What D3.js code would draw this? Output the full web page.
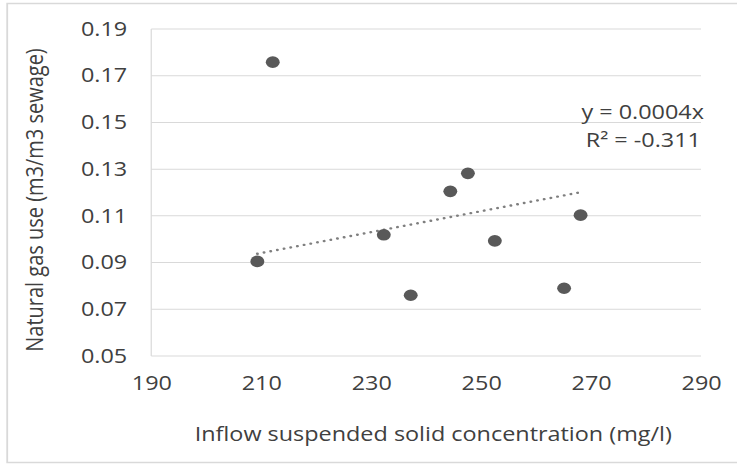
<!DOCTYPE html>
<html>
<head>
<meta charset="utf-8">
<script src="https://cdn.jsdelivr.net/npm/d3@7"></script>
<style>
  body { margin: 0; background: #fff; }
  svg { display: block; }
  text { font-family: "Open Sans", sans-serif; fill: #404040; }
</style>
</head>
<body>
<div id="chart"></div>
<script>
// data
const solids = [212.1, 209.3, 232.3, 244.4, 247.6, 252.5, 237.2, 265.1, 268.1]
const gasUse = [0.1758, 0.0905, 0.1019, 0.1205, 0.1282, 0.0993, 0.076, 0.079, 0.1103]
const xTicks = [190, 210, 230, 250, 270, 290]
const yTicks = [0.05, 0.07, 0.09, 0.11, 0.13, 0.15, 0.17, 0.19]
const trendSlope = 0.000448
const equationLines = ["y = 0.0004x", "R\u00b2 = -0.311"]

// the reference is stretched sideways, so draw in a narrower box and stretch it
const outW = 737, outH = 465
const W = 614, H = 465
const margin = { top: 29, right: 30, bottom: 109, left: 126 },
    width = 584 - margin.left,
    height = H - margin.top - margin.bottom

const textColor = "#404040"
const data = solids.map((s, i) => ({ x: s, y: gasUse[i] }))

const svgRoot = d3.select("#chart")
    .append("svg")
    .attr("width", outW)
    .attr("height", outH)
    .attr("viewBox", "0 0 " + W + " " + H)
    .attr("preserveAspectRatio", "none")

// outer chart border
svgRoot.append("rect")
    .attr("x", 6)
    .attr("y", 3.5)
    .attr("width", W + 20)
    .attr("height", 459)
    .style("fill", "none")
    .style("stroke", "#d9d9d9")
    .style("stroke-width", 1.5)

const svg = svgRoot.append("g")
    .attr("transform", "translate(" + margin.left + "," + margin.top + ")")

const x = d3.scaleLinear().domain([190, 290]).range([0, width])
const y = d3.scaleLinear().domain([0.05, 0.19]).range([height, 0])

// horizontal gridlines
svg.append("g")
    .selectAll("line")
    .data(yTicks)
    .enter()
    .append("line")
    .attr("x1", 0)
    .attr("x2", width)
    .attr("y1", d => y(d))
    .attr("y2", d => y(d))
    .style("stroke", "#d9d9d9")
    .style("stroke-width", 1)

// left axis line
svg.append("line")
    .attr("x1", 0).attr("x2", 0)
    .attr("y1", 0).attr("y2", height)
    .style("stroke", "#d9d9d9")
    .style("stroke-width", 1)

// Y axis labels
const yAxis = svg.append("g")
    .call(d3.axisLeft(y).tickValues(yTicks).tickFormat(d3.format(".2f")).tickSize(0).tickPadding(20))
yAxis.select(".domain").remove()
yAxis.selectAll("text")
    .style("font-size", "19.5px")
    .style("font-family", "'Open Sans', sans-serif")
    .style("fill", textColor)

// X axis labels
const xAxis = svg.append("g")
    .attr("transform", "translate(0," + height + ")")
    .call(d3.axisBottom(x).tickValues(xTicks).tickSize(0).tickPadding(20))
xAxis.select(".domain").remove()
xAxis.selectAll("text")
    .style("font-size", "19.5px")
    .style("font-family", "'Open Sans', sans-serif")
    .style("fill", textColor)

// axis titles
svg.append("text")
    .attr("text-anchor", "middle")
    .attr("x", 235)
    .attr("y", height + 85)
    .style("font-size", "19.5px")
    .text("Inflow suspended solid concentration (mg/l)")

svg.append("text")
    .attr("text-anchor", "middle")
    .attr("transform", "rotate(-90)")
    .attr("x", -(200 - margin.top))
    .attr("y", 36 - margin.left)
    .style("font-size", "20px")
    .text("Natural gas use (m3/m3 sewage)")

// linear trendline through the origin, drawn over the data range
const xExt = d3.extent(solids)
svg.append("line")
    .attr("x1", x(xExt[0]))
    .attr("y1", y(trendSlope * xExt[0]))
    .attr("x2", x(xExt[1]))
    .attr("y2", y(trendSlope * xExt[1]))
    .style("stroke", "#7f7f7f")
    .style("stroke-width", 2.4)
    .style("stroke-dasharray", "0.1,5.6")
    .style("stroke-linecap", "round")

// dots
svg.append("g")
    .selectAll("circle")
    .data(data)
    .enter()
    .append("circle")
    .attr("cx", d => x(d.x))
    .attr("cy", d => y(d.y))
    .attr("r", 5.8)
    .style("fill", "#595959")

// equation label
svg.append("g")
    .selectAll("text")
    .data(equationLines)
    .enter()
    .append("text")
    .attr("text-anchor", "end")
    .attr("x", (d, i) => i == 0 ? width + 2.5 : width)
    .attr("y", (d, i) => 90 + i * 28.5)
    .style("font-size", "19.5px")
    .text(d => d)
</script>
</body>
</html>
